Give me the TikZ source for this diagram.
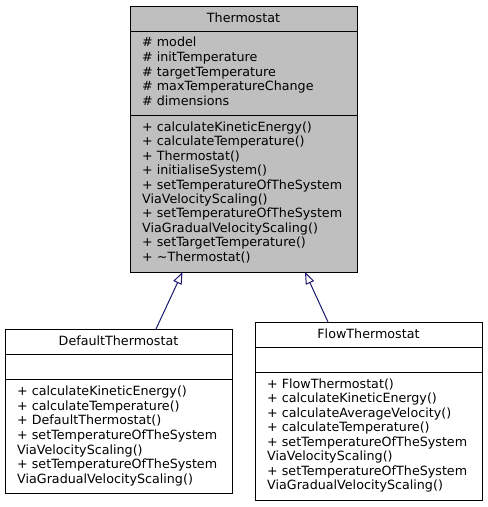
\documentclass[tikz,border=0pt]{standalone}
\usepackage{fontspec}
\setmainfont{DejaVu Sans}
\usetikzlibrary{arrows.meta}
\definecolor{clsgray}{RGB}{191,191,191}
\definecolor{inhblue}{RGB}{25,25,112}
\begin{document}
\begin{tikzpicture}[x=1pt,y=-1pt,
  clsbox/.style={draw=black,line width=1pt,anchor=north west,inner sep=0pt,outer sep=0pt,minimum width=227pt},
  ln/.style={anchor=base west,inner sep=0pt,font=\fontsize{12.7}{14.5}\selectfont},
  ttl/.style={anchor=base,inner sep=0pt,font=\fontsize{12.7}{14.5}\selectfont},
  sep/.style={draw=black,line width=1pt},
  inh/.style={draw=inhblue,line width=1pt,-{Triangle[open,length=12pt,width=9pt,fill=white]}}]
\fill[white] (0,0) rectangle (488,507);
\useasboundingbox (0,0) rectangle (488,507);

% Thermostat
\node[clsbox,fill=clsgray,minimum height=266pt] (th) at (130,6) {};
\draw[sep] (130,31) -- (357,31);
\draw[sep] (130,115) -- (357,115);
\node[ttl] (tht) at (243.5,22) {Thermostat};
\foreach \t [count=\i from 0] in {\# model,\# initTemperature,\# targetTemperature,\# maxTemperatureChange,\# dimensions}
  \node[ln] (tha\i) at (142,{46.7+\i*14.65}) {\t};
\foreach \t [count=\i from 0] in {+ calculateKineticEnergy(),+ calculateTemperature(),+ Thermostat(),+ initialiseSystem(),+ setTemperatureOfTheSystem,ViaVelocityScaling(),+ setTemperatureOfTheSystem,ViaGradualVelocityScaling(),+ setTargetTemperature(),+ \textasciitilde Thermostat()}
  \node[ln] (thm\i) at (142,{131.5+\i*14.4}) {\t};

% DefaultThermostat
\node[clsbox,fill=white,minimum height=164pt] (dt) at (5,329) {};
\draw[sep] (5,354) -- (232,354);
\draw[sep] (5,379) -- (232,379);
\node[ttl] (dtt) at (118.5,345) {DefaultThermostat};
\foreach \t [count=\i from 0] in {+ calculateKineticEnergy(),+ calculateTemperature(),+ DefaultThermostat(),+ setTemperatureOfTheSystem,ViaVelocityScaling(),+ setTemperatureOfTheSystem,ViaGradualVelocityScaling()}
  \node[ln] (dtm\i) at (17,{395.7+\i*14.6}) {\t};

% FlowThermostat
\node[clsbox,fill=white,minimum height=178pt] (ft) at (255,322) {};
\draw[sep] (255,347) -- (482,347);
\draw[sep] (255,372) -- (482,372);
\node[ttl] (ftt) at (368.5,338.3) {FlowThermostat};
\foreach \t [count=\i from 0] in {+ FlowThermostat(),+ calculateKineticEnergy(),+ calculateAverageVelocity(),+ calculateTemperature(),+ setTemperatureOfTheSystem,ViaVelocityScaling(),+ setTemperatureOfTheSystem,ViaGradualVelocityScaling()}
  \node[ln] (ftm\i) at (267,{388.3+\i*14.5}) {\t};

% inheritance
\coordinate (dtup) at (156,329);
\coordinate (thl) at (182.5,272);
\coordinate (ftup) at (328,322);
\coordinate (thr) at (305,272);
\draw[inh] (dtup) -- (thl);
\draw[inh] (ftup) -- (thr);
\end{tikzpicture}
\end{document}
